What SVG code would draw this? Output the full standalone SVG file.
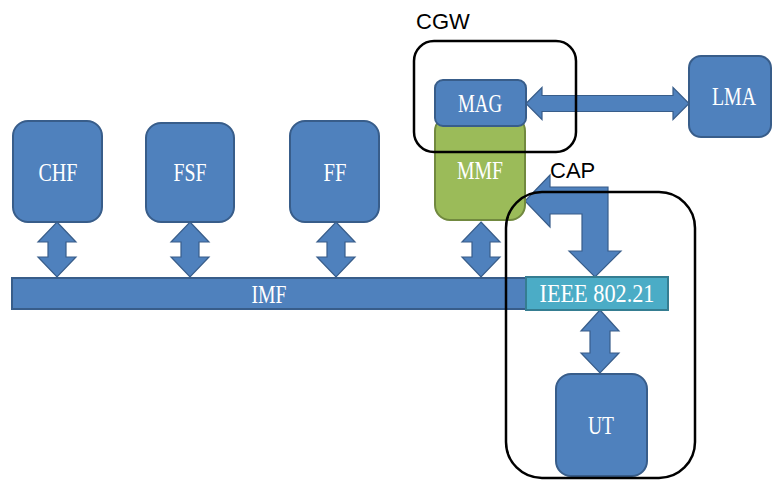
<svg xmlns="http://www.w3.org/2000/svg" xmlns:xlink="http://www.w3.org/1999/xlink" width="772" height="480" viewBox="0 0 772 480">
<style>
.blue{fill:#4F81BD;stroke:#385D8A;stroke-width:2}
.green{fill:#9BBB59;stroke:#71893F;stroke-width:2}
.teal{fill:#4BACC6;stroke:#357D91;stroke-width:2}
.arr{fill:#4F81BD;stroke:#385D8A;stroke-width:1.2}
.lbl{font-family:"Liberation Serif","DejaVu Serif",serif;font-size:26px;fill:#ffffff;text-anchor:middle}
.cap{font-family:"Liberation Sans",Arial,sans-serif;font-size:22px;fill:#000000}
.outline{fill:none;stroke:#000000;stroke-width:2.5}
</style>
<defs>
<path id="varr" d="M0,0 L19,20 L9,20 L9,35 L19,35 L0,55 L-19,35 L-9,35 L-9,20 L-19,20 Z"/>
</defs>
<g id="connectors">
<use xlink:href="#varr" href="#varr" class="arr" x="57" y="222"/>
<use xlink:href="#varr" href="#varr" class="arr" x="190" y="222"/>
<use xlink:href="#varr" href="#varr" class="arr" x="336" y="222"/>
<use xlink:href="#varr" href="#varr" class="arr" x="481" y="222"/>
<path class="arr" d="M600,310 L619,331 L610,331 L610,353 L619,353 L600,373 L581,353 L590,353 L590,331 L581,331 Z"/>
<path class="arr" d="M526,103.5 L542,87.5 L542,95.5 L673,95.5 L673,87.5 L689,103.5 L673,119.5 L673,111.5 L542,111.5 L542,119.5 Z"/>
<path class="arr" d="M525,201 L550,175 L550,187 L608,187 L608,251 L621,251 L595,277 L569,251 L582,251 L582,214 L550,214 L550,227 Z"/>
</g>
<g id="IMF">
<rect class="blue" x="12" y="278" width="515" height="31"/>
<text class="lbl" x="269" y="303" textLength="35" lengthAdjust="spacingAndGlyphs">IMF</text>
</g>
<g id="IEEE">
<rect class="teal" x="526" y="277" width="142" height="33"/>
<text class="lbl" x="597" y="302" textLength="115" lengthAdjust="spacingAndGlyphs">IEEE 802.21</text>
</g>
<g id="CHF">
<rect class="blue" x="13" y="121" width="89" height="101" rx="15"/>
<text class="lbl" x="58" y="181" textLength="39" lengthAdjust="spacingAndGlyphs">CHF</text>
</g>
<g id="FSF">
<rect class="blue" x="146" y="123" width="88" height="99" rx="15"/>
<text class="lbl" x="190" y="181" textLength="33" lengthAdjust="spacingAndGlyphs">FSF</text>
</g>
<g id="FF">
<rect class="blue" x="290" y="121" width="89" height="101" rx="15"/>
<text class="lbl" x="335" y="181" textLength="23" lengthAdjust="spacingAndGlyphs">FF</text>
</g>
<g id="MMF">
<rect class="green" x="435" y="116" width="90" height="104" rx="15"/>
<text class="lbl" x="480" y="179" textLength="46" lengthAdjust="spacingAndGlyphs">MMF</text>
</g>
<g id="MAG">
<rect class="blue" x="435" y="80" width="91" height="46" rx="8"/>
<text class="lbl" x="480" y="112" textLength="44" lengthAdjust="spacingAndGlyphs">MAG</text>
</g>
<g id="LMA">
<rect class="blue" x="689" y="56" width="82" height="81" rx="12"/>
<text class="lbl" x="734" y="105" textLength="44" lengthAdjust="spacingAndGlyphs">LMA</text>
</g>
<g id="UT">
<rect class="blue" x="556" y="374" width="91" height="102" rx="15"/>
<text class="lbl" x="601" y="434" textLength="26" lengthAdjust="spacingAndGlyphs">UT</text>
</g>
<g id="CGW">
<rect class="outline" x="414" y="41" width="162" height="111" rx="20"/>
<text class="cap" x="416" y="29">CGW</text>
</g>
<g id="CAP">
<rect class="outline" x="506" y="192" width="189" height="286" rx="36"/>
<text class="cap" x="550" y="178">CAP</text>
</g>
</svg>
